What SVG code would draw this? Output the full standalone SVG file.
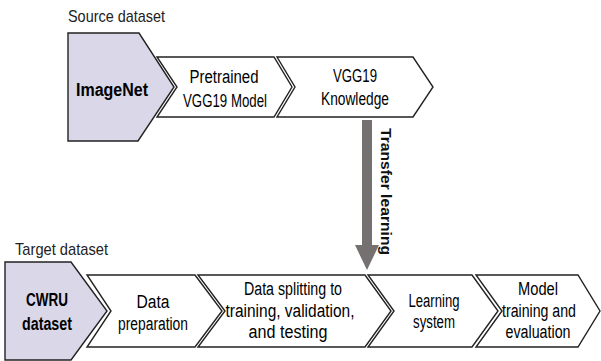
<svg xmlns="http://www.w3.org/2000/svg" width="601" height="361" viewBox="0 0 601 361">
<style>
.ch{fill:#ffffff;stroke:#222222;stroke-width:1.4;stroke-linejoin:miter}
.src{fill:#d9d7e8;stroke:#222222;stroke-width:1.4}
.t{font-family:"Liberation Sans",Arial,sans-serif;font-size:18px;fill:#000000;text-anchor:middle}
.b{font-weight:bold}
.lbl{font-family:"Liberation Sans",Arial,sans-serif;font-size:17px;fill:#222222}
</style>
<rect width="601" height="361" fill="#ffffff"/>
<text class="lbl" x="68" y="22" textLength="97" lengthAdjust="spacingAndGlyphs">Source dataset</text>
<text class="lbl" x="15" y="255" textLength="93" lengthAdjust="spacingAndGlyphs">Target dataset</text>
<g id="imagenet">
<polygon class="src" points="68,33 139,33 174,87 138,141 68,141"/>
<text class="t b" x="112" y="96" font-size="22" textLength="72" lengthAdjust="spacingAndGlyphs">ImageNet</text>
</g>
<g id="pretrained">
<polygon class="ch" points="157,57 274,57 292,87 274,117 157,117 177,87"/>
<text class="t" x="224" y="83" textLength="69" lengthAdjust="spacingAndGlyphs">Pretrained</text>
<text class="t" x="225" y="107" textLength="84" lengthAdjust="spacingAndGlyphs">VGG19 Model</text>
</g>
<g id="knowledge">
<polygon class="ch" points="277,57 413,57 433,87 413,117 277,117 295,87"/>
<text class="t" x="355" y="82" textLength="44" lengthAdjust="spacingAndGlyphs">VGG19</text>
<text class="t" x="355" y="105" textLength="68" lengthAdjust="spacingAndGlyphs">Knowledge</text>
</g>
<g id="cwru">
<polygon class="src" points="5,262 71,262 107,311 71,360 5,360"/>
<text class="t b" x="47" y="306" textLength="42" lengthAdjust="spacingAndGlyphs">CWRU</text>
<text class="t b" x="47" y="330" textLength="50" lengthAdjust="spacingAndGlyphs">dataset</text>
</g>
<g id="preparation">
<polygon class="ch" points="87,275 195,275 222,311 195,347 87,347 111,311"/>
<text class="t" x="153" y="308" textLength="33" lengthAdjust="spacingAndGlyphs">Data</text>
<text class="t" x="153" y="330" textLength="70" lengthAdjust="spacingAndGlyphs">preparation</text>
</g>
<g id="splitting">
<polygon class="ch" points="198,275 365,275 391,311 365,347 198,347 225,311"/>
<text class="t" x="293" y="295" textLength="98" lengthAdjust="spacingAndGlyphs">Data splitting to</text>
<text class="t" x="290" y="317" textLength="129" lengthAdjust="spacingAndGlyphs">training, validation,</text>
<text class="t" x="288" y="338" textLength="79" lengthAdjust="spacingAndGlyphs">and testing</text>
</g>
<g id="learning">
<polygon class="ch" points="368,275 472,275 498,311 472,347 368,347 394,311"/>
<text class="t" x="434" y="307" textLength="51" lengthAdjust="spacingAndGlyphs">Learning</text>
<text class="t" x="434" y="328" textLength="42" lengthAdjust="spacingAndGlyphs">system</text>
</g>
<g id="model">
<polygon class="ch" points="476,275 578,275 600,311 578,347 476,347 502,311"/>
<text class="t" x="538" y="295" textLength="40" lengthAdjust="spacingAndGlyphs">Model</text>
<text class="t" x="539" y="317" textLength="74" lengthAdjust="spacingAndGlyphs">training and</text>
<text class="t" x="538" y="338" textLength="65" lengthAdjust="spacingAndGlyphs">evaluation</text>
</g>
<g id="connectors">
<rect x="362" y="120" width="10" height="126" fill="#767171"/>
<polygon points="355,245 379,245 367,270" fill="#767171"/>
<text class="b" transform="translate(381,128) rotate(90)" x="0" y="0" font-family="'Liberation Sans',Arial,sans-serif" font-size="14" fill="#111111" textLength="127" lengthAdjust="spacingAndGlyphs">Transfer learning</text>
</g>
</svg>
